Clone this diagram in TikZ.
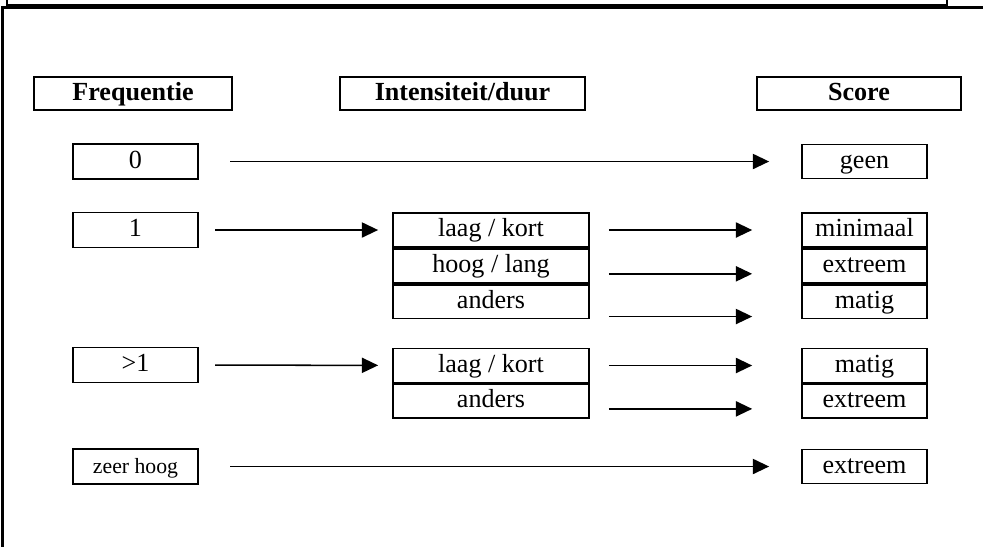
\documentclass[tikz,border=0pt]{standalone}
\usepackage{fontspec}
\setmainfont{Liberation Serif}
\usetikzlibrary{positioning, arrows.meta}

\begin{document}
\begin{tikzpicture}[
    x=0.46pt, y=-0.46pt,
    font=\fontsize{12}{14}\selectfont,
    headnode/.style={rectangle, draw=black, line width=0.95pt, minimum height=15.2pt, inner sep=0pt, text height=8.5pt, text depth=2.5pt, font=\fontsize{12}{14}\selectfont\bfseries},
    freqnode/.style={rectangle, draw=black, line width=0.85pt, minimum width=57.5pt, minimum height=16.1pt, inner sep=0pt, text height=8.5pt, text depth=2.5pt},
    intnode/.style={rectangle, draw=black, line width=0.85pt, minimum width=90.2pt, minimum height=15.6pt, inner sep=0pt, text height=8.5pt, text depth=2.5pt},
    scorenode/.style={rectangle, draw=black, line width=0.85pt, minimum width=57.5pt, minimum height=15.6pt, inner sep=0pt, text height=8.5pt, text depth=2.5pt},
    pijl/.style={-{Triangle[length=7.5pt, width=7pt]}, line width=0.7pt}
]
\useasboundingbox (0,0) rectangle (983,546);

% frame
\draw[line width=1pt] (7,-5) -- (7,5.5) -- (947,5.5) -- (947,-5);
\draw[line width=1pt] (990,7.5) -- (2.5,7.5) -- (2.5,552);

% headers
\node[headnode, minimum width=91.1pt](hfreq) at (133,93.5){Frequentie};
\node[headnode, minimum width=112.7pt](hint) at (462.5,93.5){Intensiteit/duur};
\node[headnode, minimum width=93.8pt](hscore) at (859,93.5){Score};

% frequentie
\node[freqnode](f0) at (135.5,161.5){0};
\node[freqnode](f1) at (135.5,230){1};
\node[freqnode](f2) at (135.5,365){>1};
\node[freqnode, font=\fontsize{10}{12}\selectfont](f3) at (135.5,466.5){zeer hoog};

% intensiteit/duur
\node[intnode](i11) at (491,230){laag / kort};
\node[intnode](i12)[below = 0pt of i11]{hoog / lang};
\node[intnode](i13)[below = 0pt of i12]{anders};
\node[intnode](i21) at (491,365.5){laag / kort};
\node[intnode](i22)[below = 0pt of i21]{anders};

% score
\node[scorenode](s0) at (864.5,161.5){geen};
\node[scorenode](s11) at (864.5,230){minimaal};
\node[scorenode](s12)[below = 0pt of s11]{extreem};
\node[scorenode](s13)[below = 0pt of s12]{matig};
\node[scorenode](s21) at (864.5,365.5){matig};
\node[scorenode](s22)[below = 0pt of s21]{extreem};
\node[scorenode](s3) at (864.5,466.5){extreem};

% pijlen
\draw[pijl, shorten <=14.3pt, shorten >=14.7pt] (f0) -- (s0);
\draw[pijl, shorten <=7.4pt, shorten >=6.4pt] (f1) -- (i11);
\draw[pijl, shorten <=7.4pt, shorten >=6.4pt] (f2) -- (i21);
\draw[pijl, shorten <=14.3pt, shorten >=14.7pt] (f3) -- (s3);
\draw[pijl, shorten <=8.7pt, shorten >=22.5pt] (i11) -- (s11);
\draw[pijl, shorten <=8.7pt, shorten >=22.5pt] ([yshift=-3.7pt]i12.east) -- ([yshift=-3.7pt]s12.west);
\draw[pijl, shorten <=8.7pt, shorten >=22.5pt] ([yshift=-6.9pt]i13.east) -- ([yshift=-6.9pt]s13.west);
\draw[pijl, shorten <=8.7pt, shorten >=22.5pt] (i21) -- (s21);
\draw[pijl, shorten <=8.7pt, shorten >=22.5pt] ([yshift=-3.5pt]i22.east) -- ([yshift=-3.5pt]s22.west);
\end{tikzpicture}
\end{document}
